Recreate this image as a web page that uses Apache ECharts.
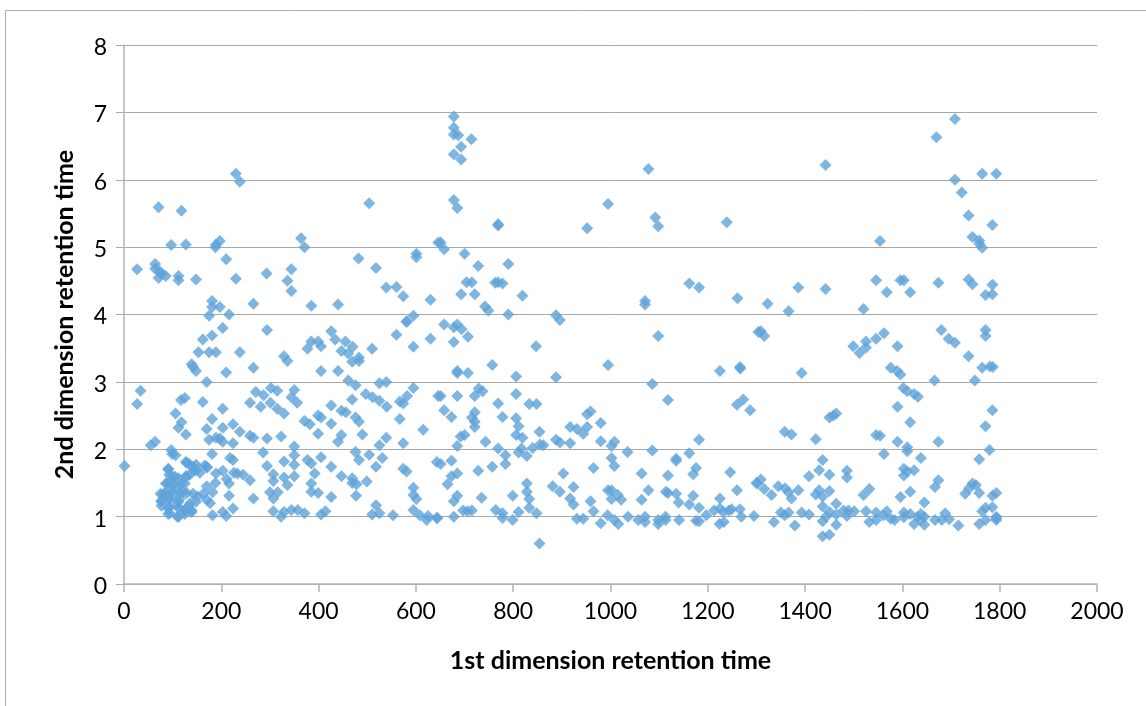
<!DOCTYPE html>
<html><head><meta charset="utf-8">
<style>html,body{margin:0;padding:0;background:#fff;overflow:hidden}#c{width:1146px;height:706px}</style>
<script src="https://cdn.jsdelivr.net/npm/echarts@6/dist/echarts.min.js"></script>
</head><body><div id="c"></div>
<script>
const xTicks = [0,200,400,600,800,1000,1200,1400,1600,1800,2000];
const yTicks = [0,1,2,3,4,5,6,7,8];
const xTitle = '1st dimension retention time';
const yTitle = '2nd dimension retention time';
const upperLeft = [[27,4.67],[71,5.59],[118,5.54],[97,5.03],[127,5.04],[64,4.75],[64,4.68],[74,4.64],[71,4.54],[86,4.57],[77,4.6],[112,4.57],[112,4.51],[148,4.52],[230,6.09],[238,5.97],[197,5.09],[189,5.04],[188,5.0],[210,4.82],[230,4.53],[293,4.61],[344,4.67],[336,4.5],[344,4.35],[364,5.13],[371,5.0],[504,5.65],[482,4.83],[518,4.69],[539,4.4],[560,4.41],[574,4.27],[601,4.9],[601,4.85],[630,4.22],[646,5.07],[181,4.2],[181,4.11],[197,4.11],[175,3.98],[216,4.0],[266,4.16],[385,4.13],[440,4.15],[595,3.98],[581,3.9]];
const lowerLeft = [[203,3.8],[294,3.77],[181,3.69],[162,3.63],[153,3.44],[175,3.44],[189,3.44],[238,3.44],[139,3.26],[142,3.22],[148,3.16],[210,3.14],[266,3.21],[170,3.0],[34,2.87],[27,2.67],[125,2.76],[117,2.73],[162,2.7],[203,2.6],[106,2.53],[181,2.45],[118,2.4],[112,2.32],[127,2.22],[170,2.3],[203,2.32],[224,2.37],[238,2.26],[175,2.14],[189,2.17],[197,2.16],[203,2.11],[224,2.09],[259,2.2],[266,2.17],[294,2.16],[323,2.19],[64,2.11],[55,2.06],[181,1.93],[97,1.99],[99,1.93],[106,1.91],[218,1.87],[224,1.84],[1,1.75],[127,1.81],[134,1.78],[148,1.77],[166,1.76],[171,1.73],[91,1.71],[156,1.65],[144,1.69],[189,1.64],[203,1.68],[226,1.65],[233,1.64],[245,1.62],[259,1.54],[211,1.56],[216,1.49],[188,1.5],[170,1.45],[182,1.36],[163,1.34],[216,1.31],[266,1.27],[170,1.25],[177,1.2],[224,1.12],[203,1.07],[210,1.01],[182,1.02]];
const denseCluster = [[93,1.62],[101,1.59],[112,1.57],[127,1.6],[135,1.62],[86,1.49],[96,1.49],[110,1.44],[125,1.49],[75,1.34],[88,1.37],[101,1.32],[116,1.36],[129,1.35],[77,1.24],[91,1.25],[112,1.22],[136,1.2],[151,1.3],[148,1.22],[77,1.16],[93,1.14],[112,1.13],[125,1.1],[139,1.09],[91,1.04],[110,1.0],[125,1.04],[83,1.31],[129,1.8],[142,1.74],[170,1.74],[149,1.69],[91,1.7],[105,1.59],[129,1.6],[88,1.49],[101,1.47],[118,1.49],[81,1.34],[98,1.37],[122,1.37],[142,1.34],[77,1.22],[94,1.25],[115,1.27],[91,1.12],[108,1.17],[132,1.15],[139,1.07],[112,1.0],[94,1.05],[125,1.1]];
const lowerLeftRight = [[377,3.49],[385,3.6],[399,3.6],[405,3.53],[426,3.75],[434,3.63],[455,3.6],[447,3.46],[461,3.42],[470,3.52],[469,3.3],[483,3.36],[483,3.31],[510,3.49],[560,3.7],[581,3.89],[595,3.52],[630,3.64],[329,3.38],[336,3.31],[405,3.16],[440,3.16],[461,3.02],[476,2.95],[525,2.98],[539,3.0],[595,2.91],[646,2.79],[271,2.85],[287,2.8],[302,2.91],[315,2.87],[350,2.88],[344,2.77],[356,2.69],[259,2.69],[281,2.63],[301,2.69],[315,2.6],[329,2.53],[426,2.65],[447,2.57],[456,2.55],[469,2.74],[497,2.82],[511,2.77],[525,2.72],[540,2.63],[567,2.71],[574,2.68],[582,2.79],[399,2.5],[405,2.47],[371,2.42],[382,2.37],[426,2.38],[399,2.23],[476,2.47],[483,2.41],[567,2.45],[615,2.29],[490,2.22],[447,2.21],[440,2.11],[539,2.17],[525,2.06],[574,2.09],[350,2.04],[286,1.95],[350,1.91],[476,1.96],[504,1.92],[531,1.87],[483,1.84],[377,1.84],[385,1.79],[405,1.88],[329,1.82],[350,1.77],[294,1.75],[426,1.74],[518,1.74],[574,1.71],[581,1.67],[307,1.63],[307,1.53],[329,1.58],[336,1.47],[350,1.6],[392,1.64],[385,1.49],[447,1.6],[469,1.57],[469,1.5],[478,1.48],[499,1.52],[595,1.43],[595,1.32],[601,1.26],[595,1.1],[300,1.36],[316,1.36],[307,1.27],[385,1.37],[399,1.35],[426,1.29],[477,1.31],[518,1.17],[307,1.08],[323,1.0],[329,1.07],[344,1.1],[357,1.1],[371,1.05],[405,1.03],[414,1.08],[510,1.03],[525,1.05],[553,1.02],[608,1.02],[622,0.95],[625,1.01],[643,0.98]];
const upperMiddle = [[678,6.94],[678,6.77],[678,6.67],[687,6.66],[714,6.6],[693,6.49],[678,6.38],[693,6.3],[1078,6.16],[678,5.7],[685,5.58],[769,5.32],[769,5.34],[952,5.28],[995,5.64],[1092,5.44],[1098,5.31],[1239,5.37],[651,5.07],[658,4.97],[700,4.9],[728,4.72],[790,4.75],[704,4.48],[715,4.48],[763,4.47],[769,4.48],[778,4.46],[693,4.3],[721,4.3],[819,4.28],[742,4.12],[749,4.06],[790,4.0],[888,3.99],[896,3.92],[1071,4.2],[1071,4.15],[1162,4.46],[1182,4.4],[1261,4.24]];
const lowerMiddle = [[658,3.85],[678,3.81],[685,3.85],[694,3.78],[707,3.67],[678,3.59],[847,3.53],[1098,3.68],[1304,3.74],[757,3.25],[995,3.25],[685,3.16],[685,3.13],[707,3.13],[806,3.08],[888,3.07],[1225,3.16],[1266,3.22],[1267,3.2],[1086,2.97],[651,2.79],[685,2.79],[721,2.79],[729,2.9],[737,2.86],[806,2.82],[769,2.68],[833,2.67],[848,2.67],[1118,2.73],[1273,2.74],[1260,2.66],[1287,2.58],[658,2.58],[673,2.48],[721,2.55],[715,2.47],[721,2.41],[721,2.33],[778,2.48],[806,2.46],[811,2.34],[806,2.21],[819,2.17],[854,2.26],[917,2.33],[931,2.3],[944,2.23],[952,2.33],[952,2.52],[959,2.56],[980,2.39],[980,2.12],[888,2.14],[896,2.1],[917,2.09],[1002,2.05],[1008,2.11],[1182,2.14],[1086,1.98],[1035,1.96],[1162,1.94],[700,2.21],[692,2.19],[685,2.05],[743,2.11],[769,2.01],[784,1.91],[784,1.78],[757,1.74],[728,1.68],[817,2.01],[811,1.95],[828,1.9],[840,2.02],[855,2.07],[862,2.06],[643,1.81],[651,1.78],[673,1.83],[673,1.6],[685,1.64],[665,1.48],[685,1.31],[678,1.23],[735,1.28],[799,1.31],[828,1.49],[828,1.37],[833,1.26],[833,1.13],[848,1.05],[811,1.07],[778,1.05],[778,0.98],[764,1.1],[799,0.95],[697,1.09],[706,1.08],[715,1.09],[678,1.0],[644,0.98],[854,0.6],[903,1.64],[881,1.45],[896,1.37],[924,1.44],[917,1.27],[924,1.18],[959,1.23],[965,1.72],[1002,1.87],[1008,1.75],[995,1.39],[1002,1.39],[1015,1.32],[1002,1.26],[1022,1.25],[1064,1.64],[1078,1.39],[1064,1.25],[1135,1.86],[1135,1.83],[1176,1.72],[1170,1.63],[1118,1.61],[1114,1.37],[1118,1.35],[1135,1.34],[1170,1.31],[1140,1.21],[1162,1.18],[1182,1.13],[1225,1.27],[1246,1.66],[1260,1.39],[1300,1.5],[965,1.08],[994,1.02],[1036,1.0],[931,0.97],[944,0.97],[980,0.9],[1008,0.95],[1016,0.89],[1057,0.95],[1071,1.0],[1071,0.92],[1098,0.95],[1098,0.89],[1113,1.0],[1113,0.95],[1141,0.95],[1176,0.94],[1182,0.93],[1197,1.02],[1213,1.09],[1225,1.12],[1232,1.07],[1243,1.09],[1249,1.11],[1224,0.89],[1233,0.92],[1266,1.11],[1269,1.0],[1295,1.01]];
const upperRight = [[1442,6.22],[1708,6.0],[1764,6.09],[1793,6.09],[1722,5.81],[1736,5.47],[1785,5.33],[1744,5.15],[1758,5.1],[1758,5.05],[1764,4.99],[1554,5.09],[1386,4.4],[1442,4.38],[1323,4.16],[1366,4.05],[1520,4.08],[1546,4.51],[1596,4.51],[1603,4.51],[1568,4.33],[1616,4.33],[1674,4.47],[1736,4.52],[1744,4.45],[1785,4.44],[1785,4.3],[1771,4.29],[1309,3.75],[1316,3.68],[1771,3.77],[1771,3.68],[1680,3.77],[1695,3.64],[1708,3.58],[1562,3.72],[1546,3.64],[1525,3.6],[1525,3.51],[1499,3.53],[1512,3.43],[1590,3.53],[1736,3.38],[1393,3.13],[1576,3.21],[1589,3.16],[1596,3.11],[1764,3.21],[1780,3.23],[1786,3.22],[1666,3.02],[1749,3.02],[1670,6.63],[1708,6.9]];
const lowerRight = [[1602,2.91],[1610,2.86],[1624,2.82],[1632,2.78],[1590,2.63],[1616,2.4],[1785,2.58],[1771,2.34],[1450,2.47],[1464,2.53],[1458,2.5],[1358,2.26],[1372,2.22],[1422,2.15],[1546,2.21],[1554,2.2],[1590,2.11],[1674,2.11],[1610,2.03],[1610,1.97],[1779,1.99],[1562,1.93],[1638,1.87],[1758,1.85],[1436,1.84],[1429,1.69],[1450,1.62],[1408,1.6],[1486,1.68],[1486,1.58],[1309,1.55],[1302,1.49],[1603,1.71],[1610,1.67],[1624,1.69],[1603,1.61],[1674,1.54],[1667,1.44],[1744,1.49],[1751,1.47],[1737,1.42],[1729,1.34],[1758,1.35],[1785,1.31],[1793,1.35],[1345,1.45],[1359,1.42],[1366,1.36],[1386,1.39],[1372,1.27],[1316,1.41],[1331,1.32],[1422,1.33],[1429,1.39],[1436,1.3],[1450,1.38],[1532,1.41],[1520,1.32],[1616,1.37],[1596,1.29],[1645,1.21],[1464,1.19],[1436,1.15],[1450,1.07],[1443,1.0],[1436,0.93],[1464,1.03],[1464,0.88],[1436,0.71],[1450,0.73],[1379,0.87],[1336,0.92],[1350,1.06],[1358,1.02],[1366,1.06],[1393,1.06],[1408,1.03],[1479,1.09],[1486,1.01],[1489,1.09],[1501,1.08],[1525,1.08],[1532,0.92],[1546,1.06],[1546,0.95],[1561,1.02],[1568,1.08],[1576,0.97],[1584,0.95],[1603,1.06],[1603,0.99],[1616,1.04],[1624,0.89],[1631,1.0],[1638,1.04],[1638,0.95],[1645,1.0],[1645,0.88],[1667,0.95],[1681,0.95],[1688,1.05],[1696,0.96],[1715,0.87],[1758,0.89],[1771,0.95],[1764,1.08],[1771,1.13],[1785,1.14],[1793,1.0],[1793,0.95],[1793,0.98]];

const points = [].concat(upperLeft, lowerLeft, denseCluster, lowerLeftRight, upperMiddle, lowerMiddle, upperRight, lowerRight);
const font = 'Lato, Carlito, Calibri, sans-serif';
const chart = echarts.init(document.getElementById('c'), null, {renderer:'canvas', width:1146, height:706});
chart.setOption({
  animation:false,
  backgroundColor:'#fff',
  graphic:[{type:'rect', silent:true, z:-1, shape:{x:5.5,y:10.5,width:1300,height:900}, style:{fill:'#fff',stroke:'#ababab',lineWidth:1}}],
  grid:{left:124, top:45, width:973, height:539},
  xAxis:{type:'value', min:xTicks[0], max:xTicks[xTicks.length-1], interval:200,
    name:xTitle, nameLocation:'middle', nameGap:64,
    nameTextStyle:{fontFamily:font, fontSize:25, fontWeight:'bold', color:'#000'},
    axisLine:{show:true,onZero:false,lineStyle:{color:'#b3b3b3',width:1.5}},
    axisTick:{show:true,length:8,lineStyle:{color:'#b3b3b3',width:1.5}},
    axisLabel:{fontFamily:font,fontSize:23,color:'#000',margin:16,formatter:function(v){return String(v);}},
    splitLine:{show:false}},
  yAxis:{type:'value', min:yTicks[0], max:yTicks[yTicks.length-1], interval:1,
    name:yTitle, nameLocation:'middle', nameGap:47,
    nameTextStyle:{fontFamily:font, fontSize:25, fontWeight:'bold', color:'#000'},
    axisLine:{show:true,lineStyle:{color:'#b3b3b3',width:1.5}},
    axisTick:{show:true,length:8,lineStyle:{color:'#ababab',width:1}},
    axisLabel:{color:'#000',margin:17,formatter:function(v){return '{t|'+v+'}';},
      rich:{t:{fontFamily:font,fontSize:23,color:'#000',padding:[5,0,0,0]}}},
    splitLine:{show:true,lineStyle:{color:'#a8a8a8',width:1}}},
  series:[{type:'scatter', data:points, symbol:'diamond', symbolSize:12,
    itemStyle:{color:'#5fa3da'}}]
});
</script></body></html>
